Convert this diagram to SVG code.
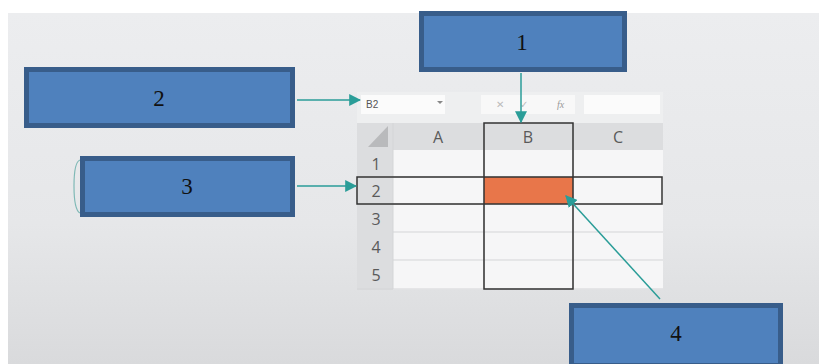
<svg xmlns="http://www.w3.org/2000/svg" width="819" height="364" viewBox="0 0 819 364">
<defs>
<linearGradient id="bg" x1="0" y1="0" x2="0" y2="1">
<stop offset="0" stop-color="#ecedef"/>
<stop offset="0.6" stop-color="#e6e7e9"/>
<stop offset="1" stop-color="#d9dadc"/>
</linearGradient>
<marker id="ah2" viewBox="0 0 10 10" refX="9" refY="5" markerWidth="12" markerHeight="12" orient="auto" markerUnits="userSpaceOnUse">
<path d="M0,0 L10,5 L0,10 Z" fill="#2a9d98"/>
</marker>
</defs>
<style>
.box{fill:#4f81bd;stroke:#385d8a;stroke-width:5}
.num{font-family:"Liberation Serif",serif;font-size:23px;fill:#111;text-anchor:middle}
.hdr{font-family:"Open Sans","Liberation Sans",sans-serif;font-size:16px;fill:#5a5a5a;text-anchor:middle}
.grid{stroke:#d4d5d7;stroke-width:1;fill:none}
.sel{fill:none;stroke:#333;stroke-width:1.5}
.conn{stroke:#2a9d98;stroke-width:1.5;fill:none}
</style>
<rect width="819" height="364" fill="#fff"/>
<rect x="8" y="13" width="811" height="351" fill="url(#bg)"/>
<g id="sheet">
<rect x="357" y="92" width="306" height="198" fill="#eeeff0"/>
<rect x="361" y="95" width="84" height="19" fill="#fbfbfb"/>
<text x="366" y="108" font-family="Liberation Sans,sans-serif" font-size="10" fill="#555">B2</text>
<path d="M437,101 l3,3 l3,-3 z" fill="#888"/>
<rect x="481" y="95" width="94" height="19" fill="#f8f8f8"/>
<text x="496" y="108" font-family="Liberation Sans,sans-serif" font-size="10" fill="#bbb">✕</text>
<text x="520" y="108" font-family="Liberation Sans,sans-serif" font-size="10" fill="#bbb">✓</text>
<text x="557" y="108" font-family="Liberation Serif,serif" font-style="italic" font-size="10" fill="#999">fx</text>
<rect x="584" y="95" width="76" height="19" fill="#fbfbfb"/>
<rect x="357" y="123" width="306" height="27" fill="#dcdddf"/>
<rect x="357" y="150" width="36" height="140" fill="#dcdddf"/>
<path d="M388,126 L388,147 L368,147 Z" fill="#b9babc"/>
<rect x="393" y="150" width="270" height="139" fill="#f6f6f7"/>
<path class="grid" d="M393,177H663M393,204H663M393,232H663M393,260H663M484,123V289M573,123V289M393,123V289M357,289H663"/>
<text class="hdr" x="438" y="143">A</text>
<text class="hdr" x="528" y="143">B</text>
<text class="hdr" x="618" y="143">C</text>
<text class="hdr" x="376" y="170">1</text>
<text class="hdr" x="376" y="197">2</text>
<text class="hdr" x="376" y="225">3</text>
<text class="hdr" x="376" y="253">4</text>
<text class="hdr" x="376" y="281">5</text>
<rect x="484" y="177" width="89" height="27" fill="#e8764a"/>
<rect class="sel" x="484" y="123" width="89" height="166"/>
<rect class="sel" x="357" y="177" width="305" height="27"/>
</g>
<g id="connectors">
<path class="conn" d="M521,73 V122" marker-end="url(#ah2)"/>
<path class="conn" d="M297,100 H360" marker-end="url(#ah2)"/>
<path class="conn" d="M297,186 H356" marker-end="url(#ah2)"/>
<path class="conn" d="M660,299 L566,196" marker-end="url(#ah2)"/>
<path d="M80,160 Q74,162 74,186 Q74,210 80,213" stroke="#7fb9b6" stroke-width="1.2" fill="none"/>
</g>
<g id="node1"><rect class="box" x="421.5" y="13.5" width="203" height="56"/><text class="num" x="522" y="50">1</text></g>
<g id="node2"><rect class="box" x="26.5" y="69.5" width="266" height="56"/><text class="num" x="159" y="106">2</text></g>
<g id="node3"><rect class="box" x="82.5" y="158.5" width="210" height="56"/><text class="num" x="187" y="194">3</text></g>
<g id="node4"><rect class="box" x="571.5" y="305.5" width="209" height="60"/><text class="num" x="676" y="341">4</text></g>
</svg>
